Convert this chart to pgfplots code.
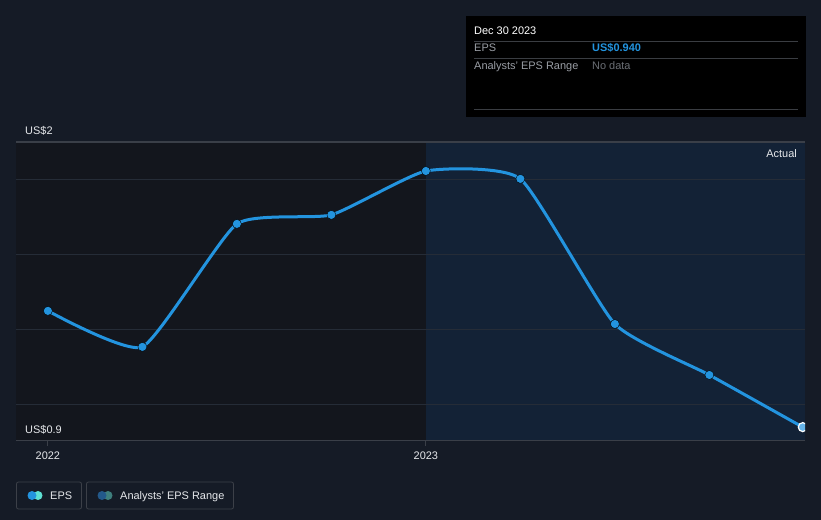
\documentclass[border=0pt]{standalone}
\usepackage{pgfplots}
\pgfplotsset{compat=1.18}
\usepackage{fontspec}
\setmainfont{Liberation Sans}
\definecolor{bg}{HTML}{151B26}
\definecolor{leftreg}{HTML}{13161D}
\definecolor{rightreg}{HTML}{132236}
\definecolor{gridc}{HTML}{252C37}
\definecolor{topline}{HTML}{3A3F48}
\definecolor{eps}{HTML}{2394DF}
\definecolor{lbl}{HTML}{E6E8EB}
\definecolor{greytxt}{HTML}{9A9EA5}
\definecolor{dimtxt}{HTML}{6B6F75}
\definecolor{sep}{HTML}{3A3D42}
\definecolor{cyanc}{HTML}{5EE0D3}
\definecolor{rangeA}{HTML}{23598A}
\definecolor{rangeB}{HTML}{3E7F7D}
\definecolor{boxedge}{HTML}{3C4048}
\begin{document}
\begin{tikzpicture}[x=1bp,y=1bp, every node/.style={inner sep=0pt}]
\fill[bg] (0,0) rectangle (821,520);
\begin{axis}[
  at={(16bp,79bp)}, anchor=south west,
  width=789bp, height=299bp, scale only axis,
  xmin=2021.9156, xmax=2024.003,
  ymin=0.904, ymax=1.7013,
  axis line style={draw=none},
  xtick={2022,2023}, xticklabels={2022,2023},
  xtick pos=lower,
  xticklabel style={text=lbl, font=\fontsize{11}{13}\selectfont, inner sep=0pt, yshift=-6bp},
  ytick={1.0,1.2,1.4,1.6}, yticklabels={},
  ymajorgrids, grid style={gridc, line width=1bp},
  tick align=outside, major tick length=5bp,
  xtick style={draw=topline, line width=1bp},
  ytick style={draw=none},
  clip marker paths=true,
]
\addplot[draw=none, fill=leftreg] coordinates {(2021.9156,0.904) (2023,0.904) (2023,1.7013) (2021.9156,1.7013)} -- cycle;
\addplot[draw=none, fill=rightreg] coordinates {(2023,0.904) (2024.003,0.904) (2024.003,1.7013) (2023,1.7013)} -- cycle;
\addplot[gridc, line width=1bp] coordinates {(2021.9156,1.0) (2024.003,1.0)};
\addplot[gridc, line width=1bp] coordinates {(2021.9156,1.2) (2024.003,1.2)};
\addplot[gridc, line width=1bp] coordinates {(2021.9156,1.4) (2024.003,1.4)};
\addplot[gridc, line width=1bp] coordinates {(2021.9156,1.6) (2024.003,1.6)};
\addplot[topline, line width=1.2bp] coordinates {(2021.9156,1.7013) (2024.003,1.7013)};
\addplot[topline, line width=1.2bp] coordinates {(2021.9156,0.904) (2024.003,0.904)};
\addplot[eps, line width=3bp, smooth, tension=0.3, no marks] coordinates {
(2022.0,1.251) (2022.25,1.155) (2022.5,1.483) (2022.75,1.507) (2023.0,1.624)
(2023.25,1.603) (2023.5,1.216) (2023.75,1.080) (2023.997,0.941)};
\addplot[only marks, mark=*, mark size=4.5pt, mark options={fill=eps, draw=none}] coordinates {
(2022.0,1.251) (2022.25,1.155) (2022.5,1.483) (2022.75,1.507) (2023.0,1.624)
(2023.25,1.603) (2023.5,1.216) (2023.75,1.080)};
\addplot[only marks, mark=*, mark size=4.5pt, mark options={fill=eps!70!white, draw=white, line width=1.2bp}] coordinates {(2023.997,0.941)};
\end{axis}
% axis labels
\node[anchor=base west, text=lbl, font=\fontsize{11}{13}\selectfont] at (25,385) {US\$2};
\node[anchor=base west, text=lbl, font=\fontsize{11}{13}\selectfont] at (25,86) {US\$0.9};
\node[anchor=base east, text=lbl, font=\fontsize{11}{13}\selectfont] at (797,362) {Actual};
% tooltip
\fill[black] (466,403) rectangle (806,504);
\node[anchor=base west, text=white, font=\fontsize{11}{13}\selectfont] at (474,485) {Dec 30 2023};
\draw[sep, line width=0.8bp] (474,478.5) -- (798,478.5);
\node[anchor=base west, text=greytxt, font=\fontsize{11}{13}\selectfont] at (474,468) {EPS};
\node[anchor=base west, text=eps, font=\bfseries\fontsize{11}{13}\selectfont] at (592,468) {US\$0.940};
\draw[sep, line width=0.8bp] (474,461.5) -- (798,461.5);
\node[anchor=base west, text=greytxt, font=\fontsize{11}{13}\selectfont] at (474,450) {Analysts' EPS Range};
\node[anchor=base west, text=dimtxt, font=\fontsize{11}{13}\selectfont] at (592,450) {No data};
\draw[sep, line width=0.8bp] (474,411) -- (798,411);
% legend
\draw[boxedge, line width=0.8bp, rounded corners=2bp] (16.5,11) rectangle (81.5,38);
\fill[cyanc] (38,24.5) circle (4.5);
\fill[eps] (32,24.5) circle (4.5);
\node[anchor=base west, text=lbl, font=\fontsize{11}{13}\selectfont] at (50,20.5) {EPS};
\draw[boxedge, line width=0.8bp, rounded corners=2bp] (86.5,11) rectangle (233.5,38);
\fill[rangeB] (108,24.5) circle (4.5);
\fill[rangeA] (102,24.5) circle (4.5);
\node[anchor=base west, text=lbl, font=\fontsize{11}{13}\selectfont] at (120,20.5) {Analysts' EPS Range};
\end{tikzpicture}
\end{document}
